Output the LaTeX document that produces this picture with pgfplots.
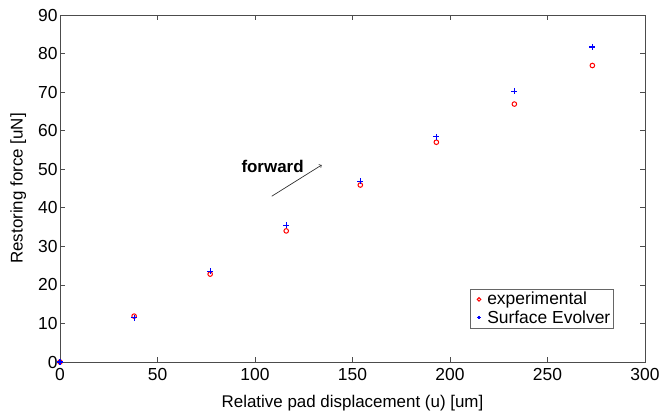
\documentclass[border=0pt]{standalone}
\usepackage{pgfplots}
\pgfplotsset{compat=1.18}
\usepackage{fontspec}
\setmainfont{Liberation Sans}
\begin{document}
\begin{tikzpicture}[x=1bp,y=1bp]
\path[use as bounding box] (0,0) rectangle (660,414);
\begin{axis}[
  at={(60bp,52bp)}, anchor=south west,
  scale only axis, width=585bp, height=347bp,
  xmin=0, xmax=300, ymin=0, ymax=90,
  xtick={0,50,...,300}, ytick={0,10,...,90},
  tick align=inside, major tick length=5bp,
  axis line style={black!70, line width=0.8pt},
  every tick/.style={black!70, line width=0.6pt},
  /pgf/number format/assume math mode=true,
  tick label style={font=\fontsize{17.5}{19}\selectfont},
  xticklabel style={yshift=-3bp},
  yticklabel style={xshift=1bp},
  label style={font=\fontsize{17}{19}\selectfont},
  xlabel={Relative pad displacement (u) [um]},
  ylabel={Restoring force [uN]},
  xlabel style={yshift=-8bp},
  ylabel style={yshift=5bp},
  clip=false,
  legend style={at={(0.9465,0.098)}, anchor=south east, font=\fontsize{17.5}{19}\selectfont, draw=black!60, row sep=0bp, inner sep=1.2bp},
  legend cell align=left,
  legend image code/.code={\path[draw=none] (0cm,0cm) -- (0.5cm,0cm); \path[draw=none] plot[mark size=1.8pt, only marks] coordinates {(0.28cm,0cm)};},
]
\addplot[only marks, mark=o, red, mark size=2.3pt, line width=1pt] coordinates {
(0,0) (38,11.9) (77,22.8) (116,34.0) (154,45.9) (193,57.0) (233,66.9) (273,76.9)};
\addlegendentry{experimental}
\addplot[only marks, mark=+, blue, mark size=3pt, line width=1.2pt] coordinates {
(0,0) (38,11.5) (77,23.5) (116,35.5) (154,46.9) (193,58.4) (233,70.2) (273,81.7)};
\addlegendentry{Surface Evolver}
\draw[->, black!80, line width=0.7pt] (axis cs:108.6,43.0) -- (axis cs:134.2,51.1);
\node[font=\bfseries\fontsize{17}{19}\selectfont] at (axis cs:109,50.8) {forward};
\end{axis}
\end{tikzpicture}
\end{document}
